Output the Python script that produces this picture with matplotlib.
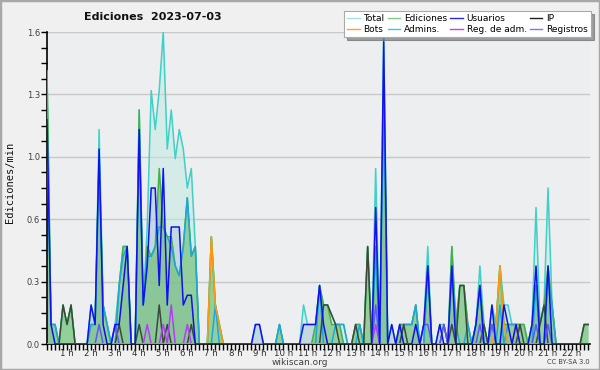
import matplotlib
matplotlib.use("Agg")
import matplotlib.pyplot as plt
import numpy as np
from matplotlib.patches import Rectangle
from matplotlib.lines import Line2D
from matplotlib.ticker import FixedLocator, FuncFormatter

title = "Ediciones  2023-07-03"
ylabel = "Ediciones/min"
footer = "wikiscan.org"
license_text = "CC BY-SA 3.0"
hours = list(range(1, 23))
hour_labels = [f"{h} h" for h in hours]
bins_per_hour = 6

# values per 10-minute bin (edits/min), one row per hour
total_rows = [
    [1.4, 0.1, 0.1, 0, 0.2, 0.1], [0.2, 0, 0, 0, 0, 0.2], [0.1, 1.1, 0.2, 0.1, 0, 0.1],
    [0.3, 0.5, 0.5, 0, 0, 1.2], [0.2, 0.6, 1.3, 1.1, 1.3, 1.6], [1.0, 1.2, 0.95, 1.1, 1.0, 0.8],
    [0.9, 0.5, 0, 0, 0, 0.55], [0.2, 0.1, 0, 0, 0, 0], [0, 0, 0, 0, 0.1, 0.1],
    [0, 0, 0, 0, 0.1, 0], [0, 0, 0, 0, 0.2, 0.1], [0.1, 0.1, 0.3, 0.2, 0.2, 0.15],
    [0.1, 0.1, 0.1, 0, 0, 0.1], [0.1, 0, 0.5, 0, 0.9, 0], [1.6, 0, 0.1, 0, 0.1, 0.1],
    [0.1, 0.1, 0.2, 0, 0.1, 0.5], [0, 0, 0.1, 0.1, 0, 0.5], [0.1, 0.3, 0.3, 0.1, 0, 0.1],
    [0.4, 0.1, 0, 0.2, 0.1, 0.4], [0.2, 0.2, 0.1, 0.1, 0.1, 0.1], [0, 0.1, 0.7, 0.1, 0.2, 0.8],
    [0.2, 0, 0, 0, 0, 0], [0, 0, 0.1, 0.1],
]
ediciones_rows = [
    [1.4, 0.1, 0.1, 0, 0.2, 0.1], [0.2, 0, 0, 0, 0, 0.1], [0.1, 0.95, 0.2, 0.1, 0, 0],
    [0.3, 0.5, 0.5, 0, 0, 1.2], [0.2, 0.5, 0.45, 0.5, 0.9, 0.6], [0.55, 0.55, 0.4, 0.35, 0.5, 0.75],
    [0.45, 0.5, 0, 0, 0, 0.55], [0.2, 0.1, 0, 0, 0, 0], [0, 0, 0, 0, 0, 0],
    [0, 0, 0, 0, 0.1, 0], [0, 0, 0, 0, 0, 0], [0, 0.1, 0.3, 0.2, 0.2, 0.1],
    [0.1, 0.1, 0, 0, 0, 0.1], [0.1, 0, 0.5, 0, 0.5, 0], [1.3, 0, 0, 0, 0.1, 0.1],
    [0.1, 0.1, 0.2, 0, 0, 0.4], [0, 0, 0, 0, 0, 0.5], [0.1, 0.3, 0.3, 0.1, 0, 0.1],
    [0.3, 0.1, 0, 0.1, 0.1, 0.4], [0.1, 0.1, 0.1, 0.1, 0.1, 0.1], [0, 0.1, 0.3, 0.1, 0.2, 0.4],
    [0.2, 0, 0, 0, 0, 0], [0, 0, 0.1, 0.1],
]
usuarios_rows = [
    [1.15, 0.1, 0, 0, 0, 0], [0, 0, 0, 0, 0, 0.2], [0.1, 1.0, 0.1, 0, 0, 0.1],
    [0.1, 0.3, 0.5, 0, 0, 1.1], [0.2, 0.4, 0.8, 0.8, 0.3, 0.9], [0.2, 0.6, 0.6, 0.6, 0.2, 0.25],
    [0.25, 0, 0, 0, 0, 0], [0, 0, 0, 0, 0, 0], [0, 0, 0, 0, 0.1, 0.1],
    [0, 0, 0, 0, 0, 0], [0, 0, 0, 0, 0.1, 0.1], [0.1, 0.1, 0.3, 0.1, 0, 0],
    [0, 0, 0, 0, 0, 0], [0, 0, 0, 0, 0.7, 0], [1.55, 0, 0.1, 0, 0.1, 0],
    [0, 0, 0.1, 0, 0.1, 0.4], [0, 0, 0.1, 0, 0, 0.4], [0, 0, 0, 0, 0, 0.1],
    [0.3, 0, 0, 0.2, 0, 0], [0.2, 0.1, 0, 0.1, 0, 0], [0, 0.1, 0.4, 0, 0, 0.4],
    [0, 0, 0, 0, 0, 0], [0, 0, 0, 0],
]
ip_rows = [
    [0, 0, 0, 0, 0.2, 0.1], [0.2, 0, 0, 0, 0, 0], [0, 0, 0, 0, 0, 0],
    [0.1, 0, 0, 0, 0, 0.1], [0, 0, 0, 0, 0.2, 0], [0.1, 0, 0, 0, 0, 0],
    [0.1, 0, 0, 0, 0, 0], [0, 0, 0, 0, 0, 0], [0, 0, 0, 0, 0, 0],
    [0, 0, 0, 0, 0, 0], [0, 0, 0, 0, 0, 0], [0, 0, 0, 0.2, 0.2, 0.15],
    [0.1, 0, 0, 0, 0, 0.1], [0, 0, 0.5, 0, 0, 0], [0, 0, 0, 0, 0, 0.1],
    [0, 0, 0, 0, 0, 0], [0, 0, 0, 0.1, 0, 0.1], [0, 0.3, 0.3, 0, 0, 0],
    [0, 0.1, 0, 0, 0, 0], [0, 0, 0, 0, 0.1, 0], [0, 0, 0, 0.1, 0.2, 0],
    [0, 0, 0, 0, 0, 0], [0, 0, 0.1, 0.1],
]
bots_rows = [
    [0, 0, 0, 0, 0, 0], [0, 0, 0, 0, 0, 0], [0, 0, 0, 0, 0, 0],
    [0, 0, 0, 0, 0, 0], [0, 0, 0, 0, 0, 0], [0, 0, 0, 0, 0, 0],
    [0, 0, 0, 0, 0, 0.55], [0.2, 0.1, 0, 0, 0, 0], [0, 0, 0, 0, 0, 0],
    [0, 0, 0, 0, 0, 0], [0, 0, 0, 0, 0, 0], [0, 0, 0, 0, 0, 0],
    [0, 0, 0, 0, 0, 0], [0, 0, 0, 0, 0, 0], [0, 0, 0, 0, 0, 0],
    [0, 0, 0, 0, 0, 0], [0, 0, 0, 0, 0, 0], [0, 0, 0, 0, 0, 0],
    [0, 0, 0, 0, 0.1, 0.4], [0.1, 0, 0, 0.1, 0, 0], [0, 0, 0, 0, 0, 0],
    [0, 0, 0, 0, 0, 0], [0, 0, 0, 0],
]
admins_rows = [
    [1.15, 0.1, 0.1, 0, 0, 0], [0, 0, 0, 0, 0, 0.1], [0.1, 0.95, 0.2, 0.1, 0, 0],
    [0.3, 0.45, 0.5, 0, 0, 1.1], [0.2, 0.45, 0.45, 0.5, 0.6, 0.6], [0.55, 0.5, 0.4, 0.35, 0.5, 0.75],
    [0.45, 0.5, 0, 0, 0, 0], [0.2, 0, 0, 0, 0, 0], [0, 0, 0, 0, 0, 0],
    [0, 0, 0, 0, 0.1, 0], [0, 0, 0, 0, 0, 0], [0, 0, 0.3, 0, 0, 0],
    [0.1, 0.1, 0.1, 0, 0, 0], [0.1, 0, 0, 0, 0.5, 0], [1.3, 0, 0, 0, 0, 0.1],
    [0.1, 0.1, 0.2, 0, 0, 0.4], [0, 0, 0, 0, 0, 0.4], [0.1, 0, 0, 0.1, 0, 0.1],
    [0.3, 0, 0, 0, 0, 0.2], [0, 0.1, 0.1, 0.1, 0, 0], [0, 0, 0.3, 0, 0, 0.35],
    [0.2, 0, 0, 0, 0, 0], [0, 0, 0, 0],
]
regadm_rows = [
    [0, 0, 0, 0, 0, 0], [0, 0, 0, 0, 0, 0], [0, 0, 0, 0, 0, 0],
    [0, 0, 0, 0, 0, 0], [0, 0.1, 0, 0, 0, 0.1], [0, 0.2, 0, 0, 0, 0.1],
    [0, 0, 0, 0, 0, 0], [0, 0, 0, 0, 0, 0], [0, 0, 0, 0, 0, 0],
    [0, 0, 0, 0, 0, 0], [0, 0, 0, 0, 0, 0], [0, 0, 0, 0, 0, 0],
    [0, 0, 0, 0, 0, 0], [0, 0, 0, 0, 0.1, 0], [0, 0, 0, 0, 0, 0],
    [0, 0, 0, 0, 0, 0], [0, 0, 0, 0, 0, 0], [0, 0, 0, 0, 0, 0],
    [0, 0, 0, 0, 0, 0], [0, 0, 0, 0, 0, 0], [0, 0, 0, 0, 0, 0],
    [0, 0, 0, 0, 0, 0], [0, 0, 0, 0],
]
registros_rows = [
    [0, 0, 0, 0, 0, 0], [0, 0, 0, 0, 0, 0], [0, 0.1, 0, 0, 0, 0.1],
    [0, 0, 0, 0, 0, 0], [0, 0, 0, 0, 0, 0], [0, 0, 0, 0, 0, 0],
    [0, 0, 0, 0, 0, 0], [0, 0, 0, 0, 0, 0], [0, 0, 0, 0, 0, 0],
    [0, 0, 0, 0, 0, 0], [0, 0, 0, 0, 0, 0], [0, 0, 0, 0, 0, 0],
    [0, 0, 0, 0, 0, 0], [0, 0, 0, 0, 0.2, 0], [0, 0, 0, 0, 0, 0],
    [0, 0, 0, 0, 0.1, 0.1], [0, 0, 0, 0.1, 0, 0], [0, 0, 0, 0, 0, 0],
    [0.1, 0, 0, 0.1, 0, 0], [0, 0, 0, 0, 0, 0], [0, 0, 0.1, 0, 0, 0.1],
    [0, 0, 0, 0, 0, 0], [0, 0, 0, 0],
]

series_names = ["Total", "Ediciones", "Usuarios", "IP", "Bots", "Admins.", "Reg. de adm.", "Registros"]
legend_colors = ["#a6e3df", "#7fcf7f", "#2a2ae0", "#202020", "#ffa030", "#45c6d6", "#d040e0", "#7878f0"]


def flat(rows):
    return np.array([v for r in rows for v in r], dtype=float)


total = flat(total_rows)
ediciones = flat(ediciones_rows)
usuarios = flat(usuarios_rows)
ip = flat(ip_rows)
bots = flat(bots_rows)
admins = flat(admins_rows)
regadm = flat(regadm_rows)
registros = flat(registros_rows)

t = np.arange(1, len(total) + 1) / bins_per_hour

fig = plt.figure(figsize=(6, 3.7), dpi=100, facecolor="#f0f0f0")
ax = fig.add_axes([47 / 600, 26 / 370, 543 / 600, 312 / 370])
ax.set_facecolor("#edeef0")

# fills
ax.fill_between(t, 0, total, color="#bfe9e2", alpha=0.5, lw=0, zorder=1)
ax.fill_between(t, 0, usuarios, color="#9fb8d8", alpha=0.35, lw=0, zorder=1.5)
ax.fill_between(t, 0, ediciones, color="#5cb85c", alpha=0.55, lw=0, zorder=2)

lw = 1.1
ax.plot(t, total, color="#3fd0c6", lw=lw, zorder=3)
ax.plot(t, ediciones, color="#45b045", lw=lw, zorder=3.1)
ax.plot(t, admins, color="#1fa6da", lw=lw, zorder=3.2)
ax.plot(t, ip, color="#3a4a3a", lw=lw, zorder=3.3)
ax.plot(t, registros, color="#5a5af0", lw=lw, zorder=3.4)
ax.plot(t, regadm, color="#b040f0", lw=lw, zorder=3.5)
ax.plot(t, bots, color="#ff9a10", lw=lw, zorder=3.6)
ax.plot(t, usuarios, color="#1010f0", lw=lw, zorder=3.7)

ax.set_xlim(1 / 6, 1 / 6 + 543 / 24.05)
ax.set_ylim(0, 1.6)

ymaj = np.arange(0, 1.61, 0.32)
ax.yaxis.set_major_locator(FixedLocator(ymaj))
ax.yaxis.set_minor_locator(FixedLocator(np.arange(0.08, 1.6, 0.08)))
ax.yaxis.set_major_formatter(FuncFormatter(lambda v, p: f"{v:.1f}"))
ax.xaxis.set_major_locator(FixedLocator(hours))
ax.set_xticklabels(hour_labels)
ax.xaxis.set_minor_locator(FixedLocator(np.arange(1, 137) / 6))

ax.tick_params(axis="both", which="both", direction="out", length=4, width=1, color="black")
ax.tick_params(axis="y", labelsize=6, labelcolor="#404040", pad=1)
ax.tick_params(axis="x", labelsize=6.2, labelcolor="#303030", pad=-0.5)

ax.grid(axis="y", which="major", color="#c8c8c8", lw=1, zorder=0.5)
ax.set_axisbelow(True)
for s in ["top", "right"]:
    ax.spines[s].set_visible(False)
ax.spines["left"].set_linewidth(1.2)
ax.spines["bottom"].set_linewidth(1.2)

fig.text(153 / 600, 1 - 17 / 370, title, ha="center", va="center", fontsize=8, fontweight="bold", color="#111")
fig.text(10 / 600, 188 / 370, ylabel, rotation=90, ha="center", va="center", fontsize=7.5, color="#111",
         family="DejaVu Sans Mono")
fig.text(300 / 600, 1 - 362.5 / 370, footer, ha="center", va="center", fontsize=6.5, color="#404040")
fig.text(590 / 600, 1 - 362.5 / 370, license_text, ha="right", va="center", fontsize=4.8, color="#404040")

handles = [Line2D([], [], color=c, lw=1.0) for c in legend_colors]
order = [0, 4, 1, 5, 2, 6, 3, 7]
leg = fig.legend([handles[i] for i in order], [series_names[i] for i in order], ncol=4,
                 loc="upper right", bbox_to_anchor=(591 / 600, 1 - 11 / 370), fontsize=6.5,
                 frameon=True, fancybox=False, shadow=True, handlelength=1.4, handletextpad=0.4,
                 columnspacing=0.35, labelspacing=0.2, borderpad=0.35, borderaxespad=0)
leg.get_frame().set_facecolor("white")
leg.get_frame().set_edgecolor("#aaaaaa")
leg.get_frame().set_linewidth(0.8)

fig.patches.append(Rectangle((0, 0), 1, 1, transform=fig.transFigure, fill=False,
                             edgecolor="#a8a8a8", lw=2.5))

fig.savefig("out.png", dpi=100, facecolor=fig.get_facecolor())
